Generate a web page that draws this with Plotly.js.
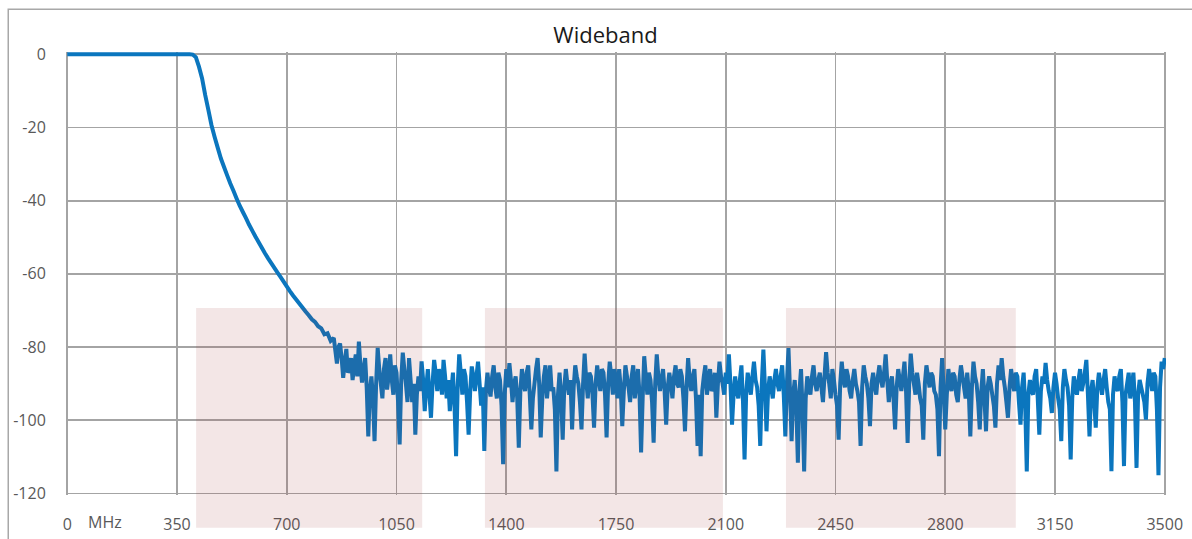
<!DOCTYPE html>
<html><head><meta charset="utf-8">
<script src="https://cdn.plot.ly/plotly-3.0.1.min.js"></script>
<style>html,body{margin:0;padding:0;background:#fff}#chart{width:1192px;height:539px}</style>
</head><body><div id="chart"></div>
<script>
// Response.
// Passband + roll-off: sampled every 10 MHz from 0 MHz.
const lowStartMHz = 0;
const lowStepMHz = 10;
const passbandDb = [0,0,0,0,0,0,0,0,0,0, 0,0,0,0,0,0,0,0,0,0, 0,0,0,0,0,0,0,0,0,0, 0,0,0,0,0,0,0,0,0,0];
const rolloffDb = [-0.1,-0.8,-3.4,-6.6,-11.2,-15.2,-19.4,-22.6,-25.6,-28.5,
  -30.8,-33.1,-35.3,-37.3,-39.4,-41.4,-43.1,-44.8,-46.6,-48.2,
  -49.8,-51.3,-52.8,-54.3,-55.7,-57,-58.3,-59.6,-60.8,-62.1,
  -63.4,-64.7,-65.9,-67,-68.1,-69.2,-70.3,-71.3,-72.4,-73.1,
  -74.3,-74.9,-76.5,-76.2,-78.3];
// Stop band: sampled every 5 MHz from 850 MHz.
const stopStartMHz = 850;
const stopStepMHz = 5;
const stopbandDb = [
  -77.5,-81,-84.5,-80,-79,-83,-88.4,-84,-80.5,-87,-86,-83,-89,-85,-82,-88,-78.5,-85,-89.7,-86,-83,-91,-104.4,-92,-88,-94,-105.7,-90,-80.2,-86,
  -90,-94,-86,-83,-91.6,-88,-82,-89,-93,-85,-87,-95,-106.6,-89,-81.5,-86,-90,-95,-83,-89,
  -95,-90,-103.9,-93,-88,-92,-83.9,-89,-97.5,-91,-86,-93,-99.3,-90,-83.5,-87,-92,-86,-88,-93,
  -83.5,-88,-94,-89,-97.5,-92,-87,-96,-109.8,-91,-82,-87,-93,-86,-88,-95,-103.9,-92,-85.3,-88,
  -92,-88,-84,-90,-96,-91,-108.4,-92,-87,-91,-93.5,-88,-85,-91,-94,-87,-89,-96,-112,-93,
  -86,-91,-84.4,-89,-95,-90,-88,-94,-107.5,-92,-86,-90,-92,-87,-85,-93,-102.5,-94,-90,-86,
  -83,-90,-104.7,-94,-88,-85,-94,-89,-85,-92,-91,-97,-114,-93,-87,-94,-105.3,-91,-86,-90,
  -93,-89,-102.5,-91,-85,-88,-90,-95,-102.5,-90,-81.8,-89,-94,-87,-88,-93,-102,-90,-85,-89,
  -92,-86,-87,-93,-104.7,-90,-84,-88,-93,-86,-89,-94,-86,-91,-101.6,-92,-85,-88,-91,-95,
  -88,-85,-94,-90,-86,-93,-108.8,-94,-82.5,-88,-93,-87,-89,-95,-106.1,-90,-82,-88,-92,-89,
  -86,-92,-101.2,-91,-87,-90,-94,-88,-85,-90,-91,-86,-88,-94,-103,-91,-83,-89,-92,-88,
  -86,-94,-107,-93,-109.8,-92,-88,-85,-93,-89,-86,-92,-91,-87,-99.3,-90,-84,-88,-90,-93,
  -87,-90,-82,-90,-101.2,-93,-88,-92,-94,-89,-85,-95,-110.7,-93,-87,-90,-93,-88,-84,-89,
  -91,-96,-107,-90,-80.7,-91,-103,-92,-88,-91,-94,-89,-86,-90,-92,-88,-85,-93,-104.4,-90,
  -80.3,-92,-105.7,-93,-89,-96,-111.6,-92,-86,-97,-114,-94,-88,-91,-93,-88,-85,-90,-92,-89,
  -87,-91,-95,-88,-81.4,-87,-90,-94,-86,-89,-93,-96,-105.3,-90,-84,-89,-91,-86,-88,-92,
  -94,-89,-86,-90,-92,-95,-107,-91,-85,-88,-90,-94,-101.6,-90,-87,-91,-93,-88,-85,-89,
  -91,-87,-82,-89,-95,-90,-88,-94,-102.5,-91,-86,-89,-92,-88,-84,-92,-106.2,-90,-81.8,-87,
  -90,-93,-87,-90,-94,-96,-105.3,-90,-85,-88,-91,-87,-88,-92,-93,-97,-109.8,-91,-83,-92,
  -102.5,-93,-86,-90,-92,-87,-88,-93,-95,-89,-85,-88,-91,-94,-87,-92,-104.4,-91,-84,-88,
  -90,-95,-102.5,-92,-86,-94,-103,-91,-88,-90,-93,-96,-102,-90,-85,-89,-83,-88,-91,-95,
  -99.3,-91,-86,-90,-92,-87,-88,-95,-101.2,-91,-87,-96,-114,-93,-89,-92,-93,-88,-86,-94,
  -103.9,-92,-88,-90,-84.3,-89,-92,-94,-98,-91,-87,-90,-94,-97,-105.7,-91,-86,-89,-91,-96,
  -110.7,-94,-88,-91,-93,-89,-86,-92,-90,-87,-83.5,-93,-104.4,-92,-89,-95,-102,-91,-87,-90,
  -93,-89,-86,-91,-95,-97,-113.9,-93,-88,-91,-92,-88,-86,-95,-112.5,-93,-90,-87,-94,-91,
  -87,-95,-113,-93,-89,-91,-93,-95,-99.8,-90,-86,-89,-92,-87,-88,-97,-115,-91,-84,-86,
  -83];

const xTickVals = [0,350,700,1050,1400,1750,2100,2450,2800,3150,3500];
const xTickText = ['0','350','700','1050','1400','1750','2100','2450','2800','3150','3500'];
const yTickVals = [-120,-100,-80,-60,-40,-20,0];
const yTickText = ['-120','-100','-80','-60','-40','-20','0'];

// Highlighted bands (MHz) and their upper level (dB)
const bandStartMHz = [411, 1332, 2292];
const bandEndMHz = [1132, 2091, 3025];
const bandTopDb = -69.3;

const lowDb = passbandDb.concat(rolloffDb);
const lowFreq = lowDb.map((_, i) => lowStartMHz + i * lowStepMHz);
const stopFreq = stopbandDb.map((_, i) => stopStartMHz + i * stopStepMHz);
const freqMHz = lowFreq.concat(stopFreq);
const dbValues = lowDb.concat(stopbandDb);

const xRange = [-4, 3504];
const yRange = [-120.4, 0.6];
const toPaperY = v => (v - yRange[0]) / (yRange[1] - yRange[0]);

const gridColor = '#a4a4a4';
const tickFont = {family: 'Open Sans, sans-serif', size: 16, color: '#595959'};

const shapes = bandStartMHz.map((s, i) => ({
  type: 'rect', layer: 'above',
  xref: 'x', yref: 'paper',
  x0: s, x1: bandEndMHz[i],
  y0: -0.074, y1: toPaperY(bandTopDb),
  fillcolor: 'rgba(155,47,47,0.12)', line: {width: 0}
}));
shapes.push({
  type: 'rect', layer: 'below', xref: 'paper', yref: 'paper',
  x0: -0.0525, x1: 1.3, y0: -0.3, y1: 1.0965,
  fillcolor: 'rgba(0,0,0,0)', line: {color: '#a8a8a8', width: 1.5}
});

const trace = {
  x: freqMHz, y: dbValues, type: 'scatter', mode: 'lines',
  line: {color: '#0b76be', width: 4, simplify: false}, hoverinfo: 'skip'
};

const layout = {
  width: 1192, height: 539,
  margin: {l: 65.75, r: 25.75, t: 51.8, b: 43.53, pad: 0},
  paper_bgcolor: '#ffffff', plot_bgcolor: '#ffffff',
  showlegend: false,
  title: {text: 'Wideband', font: {family: 'Open Sans, sans-serif', size: 22, color: '#1a1a1a'},
          x: 0.508, xref: 'container', xanchor: 'center', y: 0.935, yref: 'container', yanchor: 'middle'},
  xaxis: {
    range: xRange, tickmode: 'array', tickvals: xTickVals, ticktext: xTickText,
    showgrid: true, gridcolor: gridColor, gridwidth: 1.8, zeroline: false, showline: false,
    ticks: 'outside', ticklen: 15, tickcolor: 'rgba(0,0,0,0)', tickfont: tickFont
  },
  yaxis: {
    range: yRange, tickmode: 'array', tickvals: yTickVals, ticktext: yTickText,
    showgrid: true, gridcolor: gridColor, gridwidth: 1.8, zeroline: false, showline: false,
    ticks: 'outside', ticklen: 16, tickcolor: 'rgba(0,0,0,0)', tickfont: tickFont
  },
  shapes: shapes,
  annotations: [
    {text: 'MHz', xref: 'x', yref: 'y', x: 121, y: -120, yshift: -28, showarrow: false,
     font: tickFont, xanchor: 'center', yanchor: 'middle'},
    {text: 'dB', xref: 'x', yref: 'y', x: -124, y: 7.3, showarrow: false,
     font: tickFont, xanchor: 'center', yanchor: 'middle'}
  ]
};

Plotly.newPlot('chart', [trace], layout, {displayModeBar: false, staticPlot: true});
</script>
</body></html>
